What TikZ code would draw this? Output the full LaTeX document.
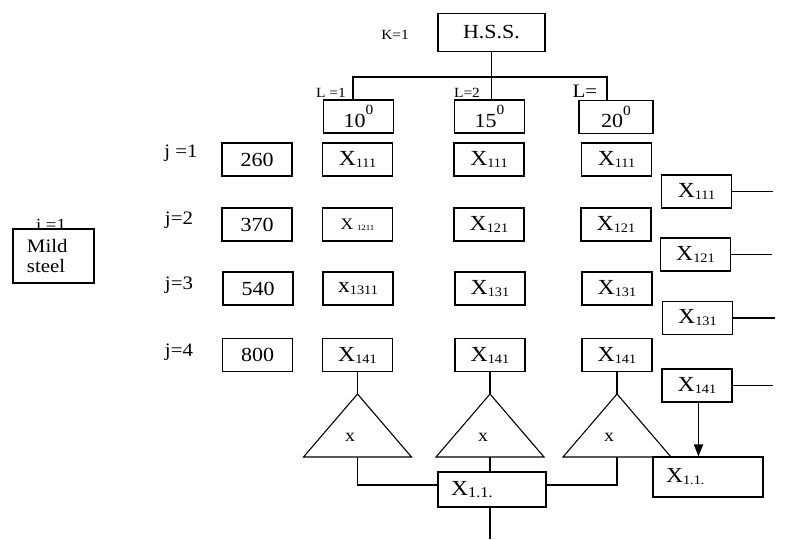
\documentclass[tikz,border=0pt]{standalone}
\usepackage{fontspec}
\setmainfont{Liberation Serif}[FakeStretch=1.1]
\usepackage{tikz}
\usetikzlibrary{shapes,arrows.meta,positioning}

\newcommand{\xsub}[3][13]{#2\raisebox{-2pt}{\fontsize{#1}{13}\selectfont #3}}
\newcommand{\degr}[1]{#1\raisebox{12.5pt}{\fontsize{14}{14}\selectfont 0}}

\begin{document}
\begin{tikzpicture}[x=1pt, y=-1pt, line width=1.1pt,
    box/.style={rectangle, draw, minimum width=70pt, minimum height=33pt, inner sep=0pt, font=\fontsize{20}{22}\selectfont},
    xbox/.style={box, font=\fontsize{21.5}{23}\selectfont},
    sumbox/.style={rectangle, draw, inner xsep=13pt, inner ysep=0pt, align=left, font=\fontsize{21.5}{23}\selectfont},
    lbl/.style={inner sep=0pt, font=\fontsize{19}{21}\selectfont},
    arrow/.style={-{Triangle[width=9pt,length=12pt]}, line width=1.6pt}
]
    \useasboundingbox (0,0) rectangle (806,539);

    % top of the tree
    \node[box, minimum width=107pt, minimum height=38pt, font=\fontsize{20}{22}\selectfont] (hss) at (491.5,32.5) {H.S.S.};
    \node[lbl, font=\fontsize{14}{15}\selectfont] (klbl) at (395,35) {K=1};
    \coordinate (bar) at (491.5,77);

    \node[box] (deg10) at (358.5,116.5) {\degr{10}};
    \node[box] (deg15) at (489.5,116.5) {\degr{15}};
    \node[box, minimum width=74pt] (deg20) at (616,117) {\degr{20}};
    \node[lbl, font=\fontsize{14}{16}\selectfont] (l1) at (331,93) {L =1};
    \node[lbl, font=\fontsize{14}{16}\selectfont] (l2) at (467,93) {L=2};
    \node[lbl, font=\fontsize{19}{21}\selectfont] (l3) at (585,91) {L=};

    \draw (hss.south) -- (hss.south |- deg15.north);
    \draw ([xshift=-5.5pt]deg10.north) |- ([xshift=-9pt]deg20.north |- bar) -- ([xshift=-9pt]deg20.north);

    % material
    \node[lbl, font=\fontsize{17}{19}\selectfont, anchor=base] (ilbl) at (51,230) {i =1};
    \node[draw, text width=53pt, inner xsep=14pt, inner ysep=0pt, minimum height=54pt, align=left, font=\fontsize{19}{20}\selectfont] (steel) at (53.5,256) {Mild\\steel};

    % speeds
    \node[lbl] (j1) at (181,153) {j =1};
    \node[lbl] (j2) at (179,220) {j=2};
    \node[lbl] (j3) at (179,285) {j=3};
    \node[lbl] (j4) at (179,352) {j=4};
    \node[box] (s260) at (257,159.5) {260};
    \node[box] (s370) at (257,224.5) {370};
    \node[box] (s540) at (258,288.5) {540};
    \node[box] (s800) at (257.5,355) {800};

    % column L=1
    \node[xbox] (a1) at (357.5,159.5) {\xsub{X}{111}};
    \node[xbox] (a2) at (357.5,224.5) {{\fontsize{16}{18}\selectfont X}\,\raisebox{-1pt}{\fontsize{8}{9}\selectfont 1211}};
    \node[xbox] (a3) at (358,288.5) {\xsub{x}{1311}};
    \node[xbox] (a4) at (357.5,355) {\xsub{X}{141}};
    % column L=2
    \node[xbox] (b1) at (489,159.5) {\xsub{X}{111}};
    \node[xbox] (b2) at (489,224.5) {\xsub{X}{121}};
    \node[xbox] (b3) at (490,288.5) {\xsub{X}{131}};
    \node[xbox] (b4) at (490,355) {\xsub{X}{141}};
    % column L=3
    \node[xbox] (c1) at (616.5,159.5) {\xsub{X}{111}};
    \node[xbox] (c2) at (616,224.5) {\xsub{X}{121}};
    \node[xbox] (c3) at (617,288.5) {\xsub{X}{131}};
    \node[xbox] (c4) at (617,355) {\xsub{X}{141}};
    % right column
    \node[xbox] (r1) at (696.5,191.5) {\xsub{X}{111}};
    \node[xbox] (r2) at (695.5,254.5) {\xsub{X}{121}};
    \node[xbox] (r3) at (697.5,318) {\xsub{X}{131}};
    \node[xbox] (r4) at (697,385.5) {\xsub{X}{141}};
    \coordinate (e1) at (773,191.5);
    \coordinate (e2) at (772,254.5);
    \coordinate (e3) at (775,318);
    \coordinate (e4) at (773,385.5);
    \draw (r1.east) -- (e1);
    \draw (r2.east) -- (e2);
    \draw (r3.east) -- (e3);
    \draw (r4.east) -- (e4);

    % triangles
    \coordinate (t1top) at (357.5,394);
    \coordinate (t2top) at (490,394);
    \coordinate (t3top) at (617,394);
    \coordinate (t1base) at (357.5,457);
    \coordinate (t2base) at (490,457);
    \coordinate (t3base) at (617,457);
    \draw (t1top) -- ++(-54,63) -- ++(108,0) -- cycle;
    \draw (t2top) -- ++(-54,63) -- ++(108,0) -- cycle;
    \draw (t3top) -- ++(-54,63) -- ++(108,0) -- cycle;
    \node[lbl, font=\fontsize{18}{20}\selectfont] (t1x) at (350,437) {x};
    \node[lbl, font=\fontsize{18}{20}\selectfont] (t2x) at (483,437) {x};
    \node[lbl, font=\fontsize{18}{20}\selectfont] (t3x) at (609,437) {x};
    \draw (a4.south) -- (t1top);
    \draw (b4.south) -- (t2top);
    \draw (c4.south) -- (t3top);

    % sums
    \node[sumbox, text width=82pt, minimum height=35pt] (sum1) at (492,489.5) {\xsub[15]{X}{1.1.}};
    \node[sumbox, text width=84pt, minimum height=40pt] (sum2) at (708,477) {\xsub{X}{1.1.}};
    \coordinate (exit) at (490,539);

    \draw (t1base) |- ([yshift=4.5pt]sum1.west);
    \draw (t2base) -- (t2base |- sum1.north);
    \draw (t3base) |- ([yshift=4.5pt]sum1.east);
    \draw (sum1.south -| exit) -- (exit);
    \draw[arrow] ([xshift=1.5pt]r4.south) -- ([xshift=1.5pt]r4.south |- sum2.north);
\end{tikzpicture}
\end{document}
